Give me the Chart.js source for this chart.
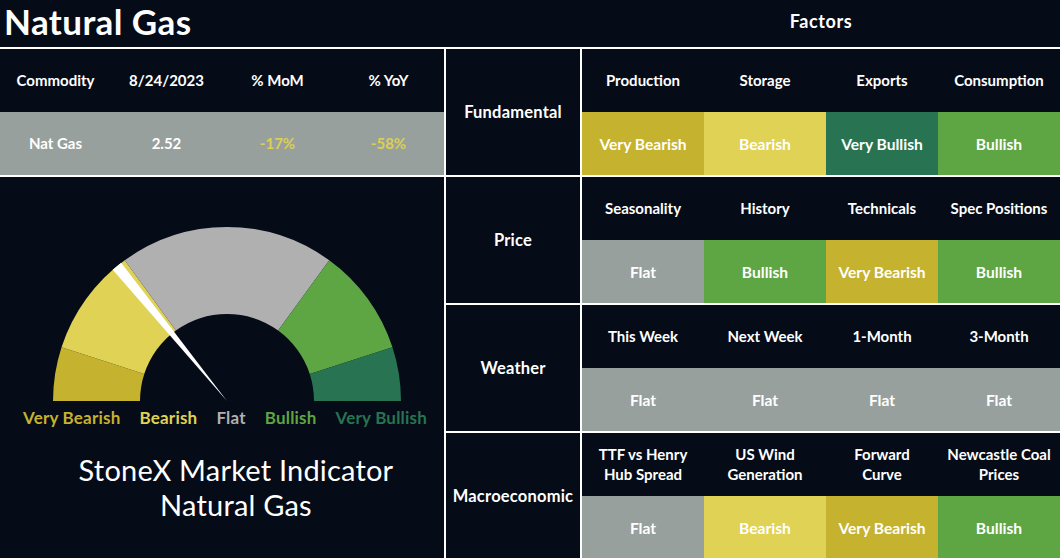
<!DOCTYPE html>
<html>
<head>
<meta charset="utf-8">
<script src="https://cdn.jsdelivr.net/npm/chart.js@4.4.0/dist/chart.umd.min.js"></script>
<style>
  body { margin: 0; background: #050b17; font-family: Lato, "Open Sans", sans-serif; color: #fff; }
  #page { position: relative; width: 1060px; height: 558px; overflow: hidden; }
  .line { position: absolute; background: #fff; }
  .cell { position: absolute; display: flex; align-items: center; justify-content: center; box-sizing: border-box;
          padding: 0 4px 1px; text-align: center; font-weight: 700; font-size: 15px; line-height: 20px; white-space: pre-line; }
  .rating { font-size: 15.6px; padding-bottom: 0; }
  .group { font-size: 16.5px; letter-spacing: 0.2px; }
  #title { position: absolute; left: 4px; top: 0; font-size: 35px; letter-spacing: 0.4px; font-weight: 700; line-height: 42px; }
  #factors { position: absolute; left: 582px; width: 478px; top: 0; height: 41px; font-size: 18px; letter-spacing: 0.6px; font-weight: 700;
             display: flex; align-items: center; justify-content: center; }
  #gaugeBox { position: absolute; left: 53px; top: 227px; width: 348px; height: 174px; }
  #legend { position: absolute; left: 0; width: 450px; top: 407px; display: flex; justify-content: center;
            gap: 19px; font-size: 17px; letter-spacing: 0.2px; font-weight: 700; }
  #subtitle { position: absolute; left: 0; width: 472px; top: 452px; text-align: center;
              font-size: 29px; letter-spacing: 0.2px; line-height: 35px; }
</style>
</head>
<body>
<div id="page">
  <div id="title">Natural Gas</div>
  <div id="factors">Factors</div>
  <div id="gaugeBox"><canvas id="gauge"></canvas></div>
  <div id="legend"></div>
  <div id="subtitle">StoneX Market Indicator<br>Natural Gas</div>
</div>
<script>
// gauge
const gaugeLabels = ["Very Bearish", "Bearish", "Flat", "Bullish", "Very Bullish"];
const gaugeShares = [10, 20, 40, 20, 10];
const gaugeColors = ["#c5b22e", "#e0d254", "#b0b0b0", "#5ea544", "#287452"];
const needleValue = 27.2;
const needleWidth = 2;

// commodity summary
const summaryHeaders = ["Commodity", "8/24/2023", "% MoM", "% YoY"];
const summaryValues = ["Nat Gas", "2.52", "-17%", "-58%"];

// factors
const factorGroups = ["Fundamental", "Price", "Weather", "Macroeconomic"];
const factorNames = [
  ["Production", "Storage", "Exports", "Consumption"],
  ["Seasonality", "History", "Technicals", "Spec Positions"],
  ["This Week", "Next Week", "1-Month", "3-Month"],
  ["TTF vs Henry\nHub Spread", "US Wind\nGeneration", "Forward\nCurve", "Newcastle Coal\nPrices"],
];
const factorRatings = [
  ["Very Bearish", "Bearish", "Very Bullish", "Bullish"],
  ["Flat", "Bullish", "Very Bearish", "Bullish"],
  ["Flat", "Flat", "Flat", "Flat"],
  ["Flat", "Bearish", "Very Bearish", "Bullish"],
];
const cellColors = {
  "Very Bearish": "#c5b22e", "Bearish": "#e0d254", "Flat": "#98a09e",
  "Bullish": "#5ea544", "Very Bullish": "#287452",
};

const page = document.getElementById("page");
function box(cls, x, y, w, h, text, bg, color) {
  const d = document.createElement("div");
  d.className = cls;
  d.style.left = x + "px"; d.style.top = y + "px";
  d.style.width = w + "px"; d.style.height = h + "px";
  if (bg) d.style.background = bg;
  if (color) d.style.color = color;
  if (text) d.textContent = text;
  page.appendChild(d);
}

// summary table
summaryHeaders.forEach((t, i) => box("cell", i * 111, 49, 111, 63, t));
summaryValues.forEach((t, i) => box("cell", i * 111, 112, 111, 63, t, "#98a09e", i >= 2 ? "#dccf55" : null));

// factor grid
const colX = [582, 704, 826, 938, 1060];
factorGroups.forEach((g, r) => {
  const top = 49 + r * 128;
  box("cell group", 446, top, 134, 126, g);
  factorNames[r].forEach((n, c) => {
    const w = colX[c + 1] - colX[c];
    box("cell", colX[c], top, w, 63, n);
    const rating = factorRatings[r][c];
    box("cell rating", colX[c], top + 63, w, 63, rating, cellColors[rating]);
  });
});

// white rules
box("line", 0, 47, 1060, 2);
box("line", 0, 175, 444, 2);
[175, 303, 431].forEach(y => box("line", 446, y, 614, 2));
box("line", 444, 47, 2, 511);
box("line", 580, 47, 2, 511);

// legend under the gauge
const legend = document.getElementById("legend");
gaugeLabels.forEach((l, i) => {
  const s = document.createElement("span");
  s.textContent = l;
  s.style.color = gaugeColors[i];
  legend.appendChild(s);
});

// needle drawn as a thin white wedge from the centre out to the rim
const needlePlugin = {
  id: "needle",
  afterDatasetsDraw(chart) {
    const arcs = chart.getDatasetMeta(0).data;
    const first = arcs[0];
    const span = arcs[arcs.length - 1].endAngle - first.startAngle;
    const total = gaugeShares.reduce((a, b) => a + b, 0);
    const a0 = first.startAngle + needleValue / total * span;
    const a1 = a0 + needleWidth / total * span;
    const ctx = chart.ctx;
    ctx.save();
    ctx.beginPath();
    ctx.moveTo(first.x, first.y);
    ctx.arc(first.x, first.y, first.outerRadius, a0, a1);
    ctx.closePath();
    ctx.fillStyle = "#ffffff";
    ctx.fill();
    ctx.restore();
  },
};

new Chart(document.getElementById("gauge"), {
  type: "doughnut",
  data: {
    labels: gaugeLabels,
    datasets: [
      {
        data: gaugeShares,
        backgroundColor: gaugeColors,
        borderWidth: 0,
      },
    ],
  },
  options: {
    responsive: true,
    maintainAspectRatio: false,
    animation: false,
    rotation: -90,
    circumference: 180,
    cutout: "50%",
    plugins: { legend: { display: false }, tooltip: { enabled: false } },
  },
  plugins: [needlePlugin],
});
</script>
</body>
</html>
